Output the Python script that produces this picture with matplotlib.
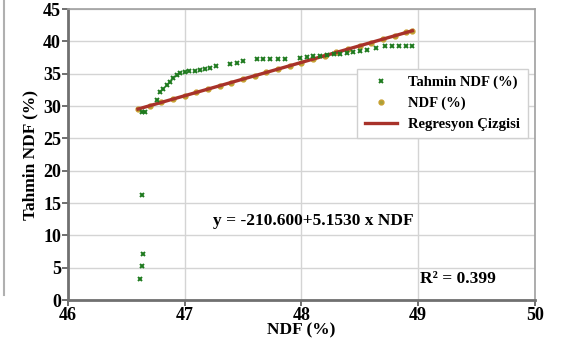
import matplotlib
matplotlib.use('Agg')
import matplotlib.pyplot as plt
from matplotlib.lines import Line2D

plt.rcParams['font.family'] = ['Liberation Serif', 'DejaVu Serif']
plt.rcParams['font.weight'] = 'bold'

# Tahmin NDF (%) - predicted values (green crosses)
tahminX = [46.62, 46.63, 46.64, 46.63, 46.63, 46.66, 46.76, 46.79, 46.81, 46.85,
           46.87, 46.90, 46.93, 46.96, 47.00, 47.04, 47.09, 47.13, 47.17, 47.22,
           47.27, 47.39, 47.45, 47.50, 47.62, 47.67, 47.73, 47.80, 47.86, 47.99,
           48.05, 48.10, 48.16, 48.22, 48.28, 48.33, 48.39, 48.44, 48.50, 48.56,
           48.64, 48.72, 48.78, 48.84, 48.90, 48.95]
tahminY = [3.3, 5.3, 7.1, 16.2, 29.1, 29.1, 30.9, 32.2, 32.7, 33.2,
           33.7, 34.3, 34.8, 35.1, 35.3, 35.4, 35.45, 35.5, 35.8, 35.95,
           36.2, 36.5, 36.7, 37.0, 37.2, 37.2, 37.2, 37.2, 37.2, 37.5,
           37.6, 37.7, 37.8, 37.9, 38.0, 38.1, 38.25, 38.4, 38.5, 38.6,
           38.9, 39.3, 39.3, 39.3, 39.3, 39.3]

# NDF (%) points (olive), lying along the regression line
ndfX = [46.60, 46.70, 46.80, 46.90, 47.00, 47.10, 47.20, 47.30, 47.40, 47.50,
        47.60, 47.70, 47.80, 47.90, 48.00, 48.10, 48.20, 48.30, 48.40, 48.50,
        48.60, 48.70, 48.80, 48.90, 48.95]
ndfY = [29.5, 30.0, 30.6, 31.1, 31.6, 32.1, 32.6, 33.1, 33.6, 34.2,
        34.7, 35.2, 35.7, 36.2, 36.7, 37.3, 37.8, 38.3, 38.8, 39.3,
        39.8, 40.3, 40.9, 41.4, 41.6]

# regression line end points
regX = [46.60, 48.95]
regY = [29.53, 41.64]

fig = plt.figure(figsize=(5.69, 3.47), dpi=100)
ax = fig.add_axes([0.1195, 0.1354, 0.8205, 0.8386])

ax.grid(True, color='#d4d4d4', linewidth=1.0)
ax.set_axisbelow(True)

ax.plot(ndfX, ndfY, 'o', color='#a8a03a', markersize=3.5, markeredgecolor='#c8a030',
        label='NDF (%)', zorder=3)
ax.plot(regX, regY, '-', color='#a8322a', linewidth=2.4, label='Regresyon Çizgisi', zorder=4)
ax.plot(tahminX, tahminY, 'x', color='#1e7a1e', markersize=3.5, markeredgewidth=1.4,
        label='Tahmin NDF (%)', zorder=5)

ax.set_xlim(46, 50)
ax.set_ylim(0, 45)
ax.set_xticks([46, 47, 48, 49, 50])
ax.set_yticks(range(0, 46, 5))
ax.tick_params(labelsize=13, length=4, width=1.2, color='#555555', pad=1)
for lab in ax.get_xticklabels() + ax.get_yticklabels():
  lab.set_fontweight('bold')

for side in ['top', 'right']:
  ax.spines[side].set_color('#a0a0a0')
  ax.spines[side].set_linewidth(1.2)
for side in ['left', 'bottom']:
  ax.spines[side].set_color('#707070')
  ax.spines[side].set_linewidth(2.0)

ax.set_xlabel('NDF (%)', fontsize=12.5, fontweight='bold', labelpad=-1)
ax.set_ylabel('Tahmin NDF (%)', fontsize=12.5, fontweight='bold', labelpad=3)

handles, labels = ax.get_legend_handles_labels()
order = [2, 0, 1]
leg = ax.legend([handles[i] for i in order], [labels[i] for i in order],
                loc='upper right', bbox_to_anchor=(1.0, 0.82), fontsize=10.5,
                frameon=True, fancybox=False, edgecolor='#d0d0d0', framealpha=1,
                borderpad=0.5, handlelength=2.2, labelspacing=0.5)
leg.get_frame().set_linewidth(1.0)

ax.text(47.24, 12.2, 'y = -210.600+5.1530 x NDF', fontsize=12.5, fontweight='bold',
        va='center', ha='left')
ax.text(49.02, 3.2, 'R² = 0.399', fontsize=12.5, fontweight='bold', va='center', ha='left')

fig.add_artist(Line2D([4 / 569, 4 / 569], [1.0, 1 - 295 / 347], transform=fig.transFigure,
                      color='#b0b0b0', linewidth=1.5))

fig.savefig('out.png', dpi=100)
